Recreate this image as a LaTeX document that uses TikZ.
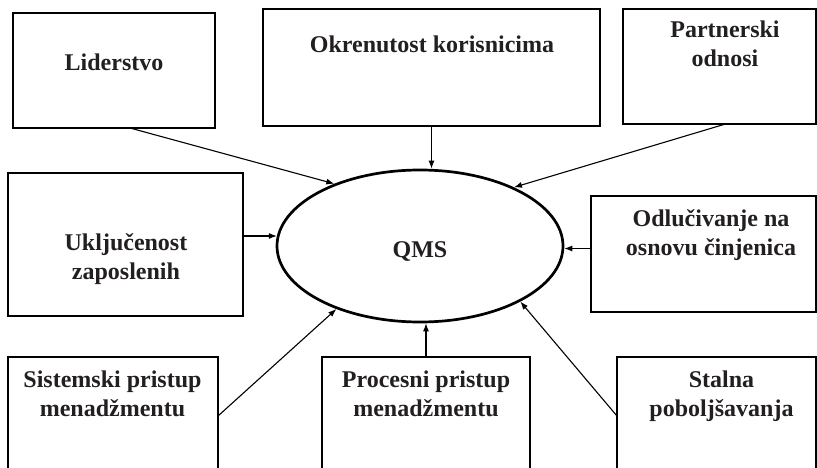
\documentclass[tikz,border=0pt]{standalone}
\usepackage{fontspec}
\setmainfont{Liberation Serif}
\usetikzlibrary{arrows.meta,shapes.geometric}
\definecolor{ink}{RGB}{35,31,32}
\begin{document}
\begin{tikzpicture}[x=1pt,y=-1pt,
  box/.style={draw=black,line width=1.7pt,inner sep=0pt,outer sep=0pt},
  lbl/.style={text=ink,align=center,inner sep=0pt,
    font={\fontsize{24}{29}\selectfont\bfseries}},
  conn/.style={draw=black,line width=1.1pt,-{Latex[length=8pt,width=6pt]}}]
\useasboundingbox (0,0) rectangle (817,468);
\clip (0,0) rectangle (817,468);

% boxes around the central ellipse
\node[box,minimum width=202pt,minimum height=115pt] (lid) at (114,70.5) {};
\node[box,minimum width=337pt,minimum height=117pt] (okr) at (431.5,67.5) {};
\node[box,minimum width=193pt,minimum height=115pt] (par) at (719.5,66.5) {};
\node[box,minimum width=235pt,minimum height=143pt] (ukl) at (125.5,244.5) {};
\node[box,minimum width=225pt,minimum height=116pt] (odl) at (703.5,254) {};
\node[box,minimum width=210pt,minimum height=118pt] (sis) at (113,416) {};
\node[box,minimum width=208pt,minimum height=118pt] (pro) at (426,416) {};
\node[box,minimum width=199pt,minimum height=118pt] (sta) at (716.5,416) {};

% central ellipse
\node[ellipse,draw=black,line width=2.7pt,minimum width=286pt,minimum height=152pt,inner sep=0pt] (qms) at (420,246) {};

% labels
\node[lbl,anchor=base] (tlid) at (114,70.5) {Liderstvo};
\node[lbl,anchor=base] (tokr) at (432,53) {Okrenutost korisnicima};
\node[lbl] (tpar) at (725,44) {Partnerski\\odnosi};
\node[lbl] (tukl) at (126,259.5) {Uključenost\\zaposlenih};
\node[lbl] (todl) at (711,235) {Odlučivanje na\\osnovu činjenica};
\node[lbl] (tsis) at (112.5,393.5) {Sistemski pristup\\menadžmentu};
\node[lbl] (tpro) at (426,394) {Procesni pristup\\menadžmentu};
\node[lbl] (tsta) at (721.5,396.5) {Stalna\\poboljšavanja};
\node[lbl,anchor=base] (tqms) at (420,257) {QMS};

% connectors into the ellipse
\draw[conn] ([xshift=16pt]lid.south) -- (qms.144);
\draw[conn] (okr.south) -- (okr.south |- qms.north);
\draw[conn] ([xshift=6pt]par.south) -- (qms.32);
\draw[conn] (ukl.east |- qms.176) -- (qms.176);
\draw[conn] (odl.west |- qms.-1) -- (qms.-1);
\draw[conn] (sis.east) -- (qms.217);
\draw[conn] (pro.north) -- (pro.north |- qms.south);
\draw[conn] (sta.west) -- (qms.331);
\end{tikzpicture}
\end{document}
